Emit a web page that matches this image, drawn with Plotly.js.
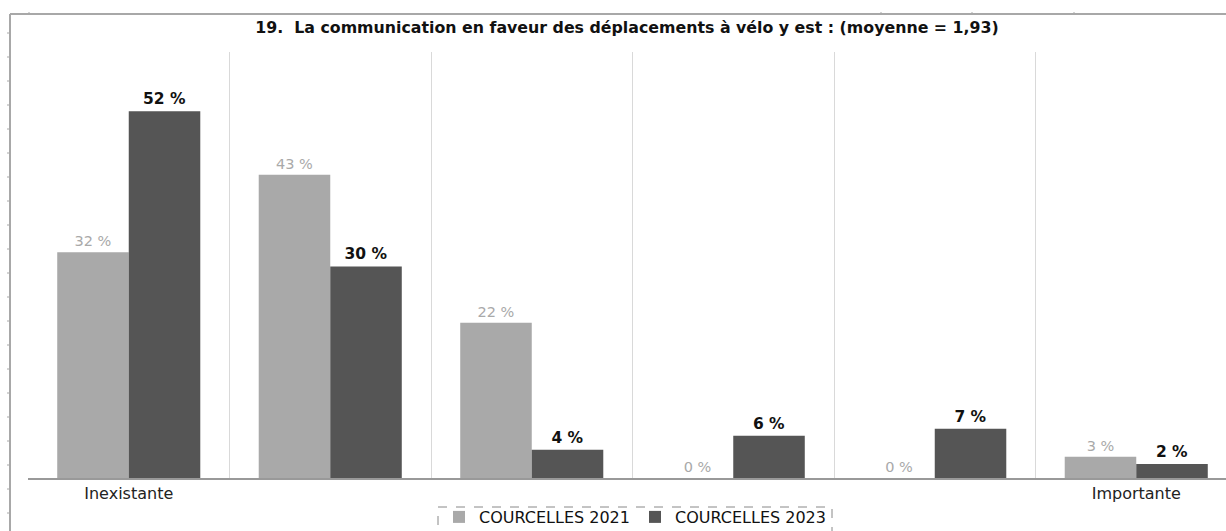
<!DOCTYPE html>
<html>
<head>
<meta charset="utf-8">
<script src="https://cdn.plot.ly/plotly-3.0.1.min.js"></script>
<style>html,body{margin:0;padding:0;background:#fff;}#chart{width:1226px;height:531px;}</style>
</head>
<body>
<div id="chart"></div>
<script>
// Data
const categories = ["Inexistante", "2", "3", "4", "5", "Importante"];
const tickLabels = ["Inexistante", "", "", "", "", "Importante"];
const seriesNames = ["COURCELLES 2021", "COURCELLES 2023"];
const values2021 = [32, 43, 22, 0, 0, 3];
const values2023 = [52, 30, 4, 6, 7, 2];

const W = 1226, H = 531;
const mL = 28, mR = 0, mT = 52, mB = 53;
const plotW = W - mL - mR, plotH = H - mT - mB;
const px2x = p => (p - mL) / plotW;
const py2y = p => (H - mB - p) / plotH;

const xs = categories.map((c, i) => i);

const trace2021 = {
  type: 'bar', name: seriesNames[0], x: xs, y: values2021,
  marker: {color: '#a9a9a9'},
  text: values2021.map(v => v + ' %'), textposition: 'outside',
  textfont: {family: 'DejaVu Sans', size: 14.5, color: '#a9a9a9'},
  cliponaxis: false, hoverinfo: 'skip'
};
const trace2023 = {
  type: 'bar', name: seriesNames[1], x: xs, y: values2023,
  marker: {color: '#555555'},
  text: values2023.map(v => '<b>' + v + ' %</b>'), textposition: 'outside',
  textfont: {family: 'DejaVu Sans', size: 15.5, color: '#111111'},
  cliponaxis: false, hoverinfo: 'skip'
};

const shapes = [];
// frame: top line and left ruler line
shapes.push({type: 'line', xref: 'paper', yref: 'paper', x0: px2x(10), x1: px2x(1226), y0: py2y(14), y1: py2y(14), line: {color: '#a8a8a8', width: 2}});
shapes.push({type: 'line', xref: 'paper', yref: 'paper', x0: px2x(10), x1: px2x(10), y0: py2y(14), y1: py2y(531), line: {color: '#a8a8a8', width: 2}});
for (let p = 33; p < 531; p += 24) {
  shapes.push({type: 'line', xref: 'paper', yref: 'paper', x0: px2x(7), x1: px2x(10), y0: py2y(p), y1: py2y(p), line: {color: '#a8a8a8', width: 1}});
}
[29, 881, 972, 1074].forEach(p => {
  shapes.push({type: 'line', xref: 'paper', yref: 'paper', x0: px2x(p), x1: px2x(p), y0: py2y(12), y1: py2y(14), line: {color: '#a8a8a8', width: 1}});
});
// dashed legend box
shapes.push({type: 'rect', xref: 'paper', yref: 'paper', x0: px2x(438), x1: px2x(832), y0: py2y(507), y1: py2y(545), line: {color: '#888', width: 1, dash: 'dash'}, fillcolor: 'rgba(0,0,0,0)'});

const layout = {
  width: W, height: H,
  margin: {l: mL, r: mR, t: mT, b: mB, pad: 0, autoexpand: false},
  paper_bgcolor: '#ffffff', plot_bgcolor: '#ffffff',
  font: {family: 'DejaVu Sans', color: '#222'},
  title: {text: '<b>19.  La communication en faveur des déplacements à vélo y est : (moyenne = 1,93)</b>',
    font: {family: 'DejaVu Sans', size: 15.8, color: '#111'}, x: 0.5, xref: 'paper', xanchor: 'center',
    y: 1 - 27 / H, yref: 'container', yanchor: 'middle'},
  barmode: 'group', bargap: 0.29, bargroupgap: 0,
  showlegend: true,
  legend: {orientation: 'h', x: px2x(635), xanchor: 'center', y: py2y(500), yanchor: 'top',
    font: {family: 'DejaVu Sans', size: 16, color: '#111'}, bgcolor: 'rgba(0,0,0,0)', borderwidth: 0,
    itemwidth: 30, traceorder: 'normal'},
  xaxis: {type: 'linear', range: [-0.5, -0.5 + plotW / 201.5], tickvals: xs, ticktext: tickLabels,
    showgrid: false, zeroline: false, showline: true, linecolor: '#999', linewidth: 1.5,
    ticks: '', tickfont: {family: 'DejaVu Sans', size: 16, color: '#222'}, fixedrange: true},
  xaxis2: {type: 'linear', overlaying: 'x', range: [-0.5, -0.5 + plotW / 201.5], tick0: -0.5, dtick: 1,
    showgrid: true, gridcolor: '#d9d9d9', gridwidth: 1, showticklabels: false, zeroline: false, ticks: '', anchor: 'y'},
  yaxis: {range: [0, 60.4], showgrid: false, zeroline: false, showticklabels: false, ticks: '', showline: false, fixedrange: true},
  shapes: shapes
};

// invisible trace to activate xaxis2 for grid lines
const gridTrace = {type: 'scatter', x: [0], y: [0], xaxis: 'x2', mode: 'markers', marker: {opacity: 0}, showlegend: false, hoverinfo: 'skip'};

Plotly.newPlot('chart', [gridTrace, trace2021, trace2023], layout, {displayModeBar: false, staticPlot: true});
</script>
</body>
</html>
